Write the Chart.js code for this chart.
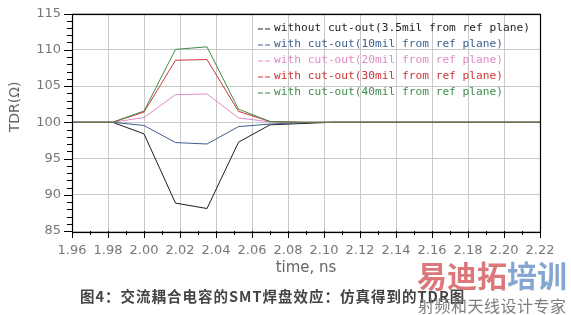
<!DOCTYPE html>
<html><head><meta charset="utf-8">
<script src="https://cdn.jsdelivr.net/npm/chart.js@4/dist/chart.umd.min.js"></script>
<style>
html,body{margin:0;padding:0;background:#fff;}
#wrap{position:relative;width:571px;height:315px;overflow:hidden;}
#c{position:absolute;left:0;top:0;}
.cap{position:absolute;left:80px;top:286px;font:bold 14.5px "Noto Sans CJK SC";color:#444;white-space:nowrap;letter-spacing:1px;line-height:20px;}
.wm1{position:absolute;left:417px;top:256px;font:bold 30px "Noto Sans CJK SC";white-space:nowrap;line-height:36px;}
.wm2{position:absolute;left:418px;top:295px;font:16px "Noto Sans CJK SC";color:#7d7d7d;white-space:nowrap;line-height:20px;letter-spacing:0.5px;}
</style></head>
<body><div id="wrap"><canvas id="c" width="571" height="315"></canvas>
<div class="cap">图4：交流耦合电容的SMT焊盘效应：仿真得到的TDR图</div>
<div class="wm1"><span style="color:rgba(214,96,100,0.85)">易迪拓</span><span style="color:rgba(110,150,200,0.85)">培训</span></div>
<div class="wm2">射频和天线设计专家</div>
</div>
<script>
const timeNs = [1.96, 1.9825, 2.0, 2.0175, 2.035, 2.0525, 2.07, 2.0875, 2.105, 2.22];
const without35 = [100, 100, 98.4, 88.85, 88.1, 97.25, 99.65, 99.82, 100, 100];
const with10 = [100, 100, 99.55, 97.2, 97.0, 99.4, 99.75, 99.95, 100, 100];
const with20 = [100, 100, 100.65, 103.8, 103.9, 100.6, 100.05, 100, 100, 100];
const with30 = [100, 100, 101.4, 108.55, 108.65, 101.5, 100.1, 100, 100, 100];
const with40 = [100, 100, 101.55, 110.05, 110.4, 101.8, 100.1, 100, 100, 100];
const seriesNames = [
  'without cut-out(3.5mil from ref plane)',
  'with cut-out(10mil from ref plane)',
  'with cut-out(20mil from ref plane)',
  'with cut-out(30mil from ref plane)',
  'with cut-out(40mil from ref plane)'
];
const seriesColors = ['#1e1e1e', '#3c5f8e', '#e18ac6', '#cf3535', '#3f8d4d'];
const xTickLabels = ['1.96','1.98','2.00','2.02','2.04','2.06','2.08','2.10','2.12','2.14','2.16','2.18','2.20','2.22'];
const yTickLabels = ['85','90','95','100','105','110','115'];
const xAxisTitle = 'time, ns';
const yAxisTitle = 'TDR(Ω)';

const allSeries = [without35, with10, with20, with30, with40];
const xMin = parseFloat(xTickLabels[0]), xMax = parseFloat(xTickLabels[xTickLabels.length-1]);
const yMin = parseFloat(yTickLabels[0]), yMax = parseFloat(yTickLabels[yTickLabels.length-1]);

const datasets = allSeries.map((vals, i) => ({
  label: seriesNames[i],
  data: vals.map((v, k) => ({x: timeNs[k], y: v})),
  borderColor: seriesColors[i],
  backgroundColor: seriesColors[i],
  borderWidth: 1,
  pointRadius: 0,
  tension: 0,
  fill: false,
  order: allSeries.length - 1 - i
}));

const extras = {
  id: 'extras',
  afterDraw(chart) {
    const {ctx, chartArea: a, scales: {x, y}} = chart;
    ctx.save();
    ctx.strokeStyle = '#000';
    ctx.lineWidth = 1.2;
    ctx.strokeRect(Math.round(a.left)+0.5, Math.round(a.top)+0.5, Math.round(a.right-a.left), Math.round(a.bottom-a.top));
    ctx.lineWidth = 1;
    ctx.beginPath();
    const nx = Math.round((xMax - xMin) / 0.01);
    for (let k = 0; k <= nx; k++) {
      const px = Math.round(x.getPixelForValue(xMin + k*0.01)) + 0.5;
      ctx.moveTo(px, a.bottom);
      ctx.lineTo(px, a.bottom + (k % 2 === 0 ? 7 : 4));
    }
    const ny = Math.round(yMax - yMin);
    for (let k = 0; k <= ny; k++) {
      const py = Math.round(y.getPixelForValue(yMin + k)) + 0.5;
      ctx.moveTo(a.left, py);
      ctx.lineTo(a.left - (k % 5 === 0 ? 8 : 5), py);
    }
    ctx.stroke();
    // legend
    ctx.font = '11.2px "DejaVu Sans Mono"';
    ctx.textBaseline = 'middle';
    ctx.textAlign = 'left';
    seriesNames.forEach((n, i) => {
      const ly = 28.5 + i * 16;
      ctx.strokeStyle = seriesColors[i];
      ctx.fillStyle = seriesColors[i];
      ctx.beginPath();
      ctx.moveTo(258, ly + 0.5); ctx.lineTo(263, ly + 0.5);
      ctx.moveTo(265, ly + 0.5); ctx.lineTo(270, ly + 0.5);
      ctx.stroke();
      ctx.fillText(n, 274, ly);
    });
    // y title
    ctx.translate(15, 107);
    ctx.rotate(-Math.PI/2);
    ctx.font = '14px "DejaVu Sans"';
    ctx.fillStyle = '#666';
    ctx.textAlign = 'center';
    ctx.fillText(yAxisTitle, 0, 0);
    ctx.restore();
  }
};

new Chart(document.getElementById('c'), {
  type: 'line',
  data: { datasets },
  options: {
    responsive: false,
    animation: false,
    events: [],
    layout: { padding: { top: 13.5, right: 31, left: 0, bottom: 0 } },
    plugins: { legend: { display: false }, tooltip: { enabled: false } },
    scales: {
      x: {
        type: 'linear', min: xMin, max: xMax,
        afterBuildTicks: s => { s.ticks = xTickLabels.map(t => ({value: parseFloat(t)})); },
        afterFit: s => { s.height = 84; s.paddingLeft = 0; s.paddingRight = 0; },
        ticks: { callback: (v, i) => xTickLabels[i], font: { family: 'DejaVu Sans', size: 13 }, color: '#777', padding: 12, maxRotation: 0, autoSkip: false },
        grid: { color: '#c8c8c8', lineWidth: 1, drawTicks: false },
        border: { display: false },
        title: { display: true, text: xAxisTitle, font: { family: 'DejaVu Sans', size: 15 }, color: '#666', padding: { top: 0, bottom: 38 } }
      },
      y: {
        type: 'linear', min: yMin, max: yMax,
        afterBuildTicks: s => { s.ticks = yTickLabels.map(t => ({value: parseFloat(t)})); },
        afterFit: s => { s.width = 72; s.paddingTop = 0; s.paddingBottom = 0; },
        ticks: { callback: (v, i) => yTickLabels[i], font: { family: 'DejaVu Sans', size: 13 }, color: '#777', padding: 11 },
        grid: { color: '#c8c8c8', lineWidth: 1, drawTicks: false },
        border: { display: false }
      }
    }
  },
  plugins: [extras]
});
</script>
</body></html>
